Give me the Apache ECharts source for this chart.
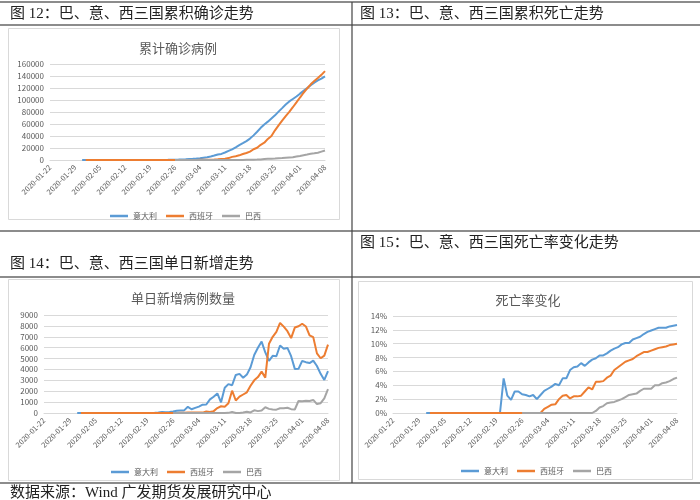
<!DOCTYPE html>
<html>
<head>
<meta charset="utf-8">
<script src="https://cdn.jsdelivr.net/npm/echarts@6/dist/echarts.min.js"></script>
<style>
html,body{margin:0;padding:0;background:#fff}
#main{width:700px;height:500px}
</style>
</head>
<body>
<div id="main"></div>
<script>
var names = ['意大利', '西班牙', '巴西'];
var colors = ['#5b9bd5', '#ed7d31', '#a5a5a5'];

var dates = [
  '2020-01-22','2020-01-23','2020-01-24','2020-01-25','2020-01-26','2020-01-27','2020-01-28','2020-01-29','2020-01-30','2020-01-31',
  '2020-02-01','2020-02-02','2020-02-03','2020-02-04','2020-02-05','2020-02-06','2020-02-07','2020-02-08','2020-02-09','2020-02-10',
  '2020-02-11','2020-02-12','2020-02-13','2020-02-14','2020-02-15','2020-02-16','2020-02-17','2020-02-18','2020-02-19','2020-02-20',
  '2020-02-21','2020-02-22','2020-02-23','2020-02-24','2020-02-25','2020-02-26','2020-02-27','2020-02-28','2020-02-29',
  '2020-03-01','2020-03-02','2020-03-03','2020-03-04','2020-03-05','2020-03-06','2020-03-07','2020-03-08','2020-03-09','2020-03-10',
  '2020-03-11','2020-03-12','2020-03-13','2020-03-14','2020-03-15','2020-03-16','2020-03-17','2020-03-18','2020-03-19','2020-03-20',
  '2020-03-21','2020-03-22','2020-03-23','2020-03-24','2020-03-25','2020-03-26','2020-03-27','2020-03-28','2020-03-29','2020-03-30','2020-03-31',
  '2020-04-01','2020-04-02','2020-04-03','2020-04-04','2020-04-05','2020-04-06','2020-04-07','2020-04-08'
];

// 累计确诊
var italyTotal = [
  null,null,null,null,null,null,null,null,null,2,
  2,2,2,2,2,2,3,3,3,3,3,3,3,3,3,3,3,3,3,3,20,62,155,229,322,453,655,888,1128,
  1694,2036,2502,3089,3858,4636,5883,7375,9172,10149,12462,15113,17660,21157,24747,27980,31506,35713,41035,47021,
  53578,59138,63927,69176,74386,80589,86498,92472,97689,101739,105792,
  110574,115242,119827,124632,128948,132547,135586,139422
];
var spainTotal = [
  null,null,null,null,null,null,null,null,null,null,
  1,1,1,1,1,1,1,1,2,2,2,2,2,2,2,2,2,2,2,2,2,2,2,2,6,13,15,32,45,
  84,120,165,222,259,400,500,673,1073,1695,2277,3146,5232,6391,7798,9942,11748,13910,17963,20410,
  25374,28768,35136,39885,49515,57786,65719,73235,80110,87956,95923,
  104118,112065,119199,126168,131646,136675,141942,148220
];
var brazilTotal = [
  null,null,null,null,null,null,null,null,null,null,
  null,null,null,null,null,null,null,null,null,null,null,null,null,null,null,null,null,null,null,null,null,null,null,null,null,1,1,1,2,
  2,2,2,4,4,13,13,20,25,31,38,52,151,151,162,200,321,372,621,793,
  1021,1546,1924,2247,2554,2985,3417,3904,4256,4579,5717,
  6836,8044,9056,10360,11130,12161,14034,15927
];

// 单日新增
var italyDaily = [
  null,null,null,null,null,null,null,null,null,2,
  0,0,0,0,0,0,1,0,0,0,0,0,0,0,0,0,0,0,0,0,17,42,93,74,93,131,202,233,240,
  566,342,466,587,769,778,1247,1492,1797,977,2313,2651,2547,3497,3590,3233,3526,4207,5322,5986,
  6557,5560,4789,5249,5210,6203,5909,5974,5217,4050,4053,
  4782,4668,4585,4805,4316,3599,3039,3836
];
var spainDaily = [
  null,null,null,null,null,null,null,null,null,null,
  1,0,0,0,0,0,0,0,1,0,0,0,0,0,0,0,0,0,0,0,0,0,0,0,4,7,2,17,13,
  39,36,45,57,37,141,100,173,450,620,580,900,2050,1150,1500,1700,1900,2500,3000,3300,
  3800,3250,6368,7000,7450,8271,7933,7516,6875,7846,7967,
  8195,7947,7134,6969,5478,5029,5267,6278
];
var brazilDaily = [
  null,null,null,null,null,null,null,null,null,null,
  null,null,null,null,null,null,null,null,null,null,null,null,null,null,null,null,null,null,null,null,null,null,null,null,null,1,0,0,1,
  0,0,0,2,0,9,0,7,5,6,7,14,99,0,11,38,121,51,249,172,
  228,525,378,323,307,431,432,487,352,323,1100,
  1080,1120,1100,1200,820,900,1350,2200
];

// 死亡率 (%)
var italyRate = [
  null,null,null,null,null,null,null,null,null,0,
  0,0,0,0,0,0,0,0,0,0,0,0,0,0,0,0,0,0,0,0,5.0,2.5,1.9,3.1,3.1,2.7,2.6,2.4,2.6,
  2.0,2.6,3.2,3.5,3.8,4.2,4.0,5.0,5.0,6.2,6.6,6.7,7.2,6.8,7.3,7.7,7.9,8.3,8.3,8.6,
  9.0,9.3,9.5,9.9,10.1,10.1,10.6,10.8,11.0,11.4,11.7,
  11.9,12.1,12.3,12.3,12.3,12.5,12.6,12.7
];
var spainRate = [
  null,null,null,null,null,null,null,null,null,null,
  0,0,0,0,0,0,0,0,0,0,0,0,0,0,0,0,0,0,0,0,0,0,0,0,0,0,0,0,0,
  0,0,0.6,0.9,1.2,1.25,2.0,2.5,2.6,2.1,2.4,2.4,2.5,3.1,3.7,3.4,4.5,4.5,4.6,5.1,
  5.4,6.2,6.6,7.0,7.4,7.6,7.8,8.2,8.5,8.8,8.8,
  9.0,9.2,9.4,9.5,9.6,9.8,9.9,10.0
];
var brazilRate = [
  null,null,null,null,null,null,null,null,null,null,
  null,null,null,null,null,null,null,null,null,null,null,null,null,null,null,null,null,null,null,null,null,null,null,null,null,0,0,0,0,
  0,0,0,0,0,0,0,0,0,0,0,0,0,0,0,0,0.3,0.8,1.0,1.4,
  1.5,1.6,1.8,2.0,2.3,2.6,2.7,2.8,3.2,3.5,3.5,
  3.5,4.0,4.0,4.3,4.4,4.6,4.9,5.1
];

var chartTitles = ['累计确诊病例', '单日新增病例数量', '死亡率变化'];
var headers = [
  '图 12：巴、意、西三国累积确诊走势',
  '图 13：巴、意、西三国累积死亡走势',
  '图 14：巴、意、西三国单日新增走势',
  '图 15：巴、意、西三国死亡率变化走势'
];
var sourceText = '数据来源：Wind 广发期货发展研究中心';

var cjk = "'Noto Sans CJK SC', sans-serif";
var song = "'Liberation Serif', 'Noto Sans CJK SC', serif";
var grey = '#595959';

function plain(v) { return String(v); }
function pct(v) { return v + '%'; }

function xAxisFor(gi) {
  return {
    type: 'category', gridIndex: gi, data: dates, boundaryGap: false,
    axisLine: {lineStyle: {color: '#d9d9d9'}},
    axisTick: {show: false},
    axisLabel: {interval: 6, rotate: 45, fontSize: 7.5, color: grey, margin: 6, fontFamily: cjk}
  };
}
function yAxisFor(gi, max, step, fmt) {
  return {
    type: 'value', gridIndex: gi, min: 0, max: max, interval: step,
    axisLine: {show: false}, axisTick: {show: false},
    splitLine: {lineStyle: {color: '#d9d9d9', width: 1}},
    axisLabel: {fontSize: 8, color: grey, margin: 6, fontFamily: cjk, formatter: fmt}
  };
}
function lineFor(name, gi, data, color) {
  return {
    name: name, type: 'line', xAxisIndex: gi, yAxisIndex: gi, data: data,
    symbol: 'none', showSymbol: false, connectNulls: false,
    lineStyle: {width: 2, color: color}, itemStyle: {color: color}
  };
}
function legendAt(left, top) {
  return {
    data: names, left: left, top: top, icon: 'rect', itemWidth: 18, itemHeight: 2.5, itemGap: 9,
    textStyle: {fontSize: 8, color: grey, fontFamily: cjk}
  };
}
function hline(y, x1, x2) {
  return {type: 'line', shape: {x1: x1, y1: y, x2: x2, y2: y}, style: {stroke: '#666', lineWidth: 1.5}};
}
function box(x, y, w, h) {
  return {type: 'rect', shape: {x: x, y: y, width: w, height: h}, style: {fill: 'none', stroke: '#d9d9d9', lineWidth: 1}};
}
function label(txt, x, y) {
  return {type: 'text', x: x, y: y, style: {text: txt, fontSize: 15, fontFamily: song, fill: '#222', verticalAlign: 'middle'}};
}

var myChart = echarts.init(document.getElementById('main'));
var option = {
  animation: false,
  backgroundColor: '#fff',
  title: [
    {text: chartTitles[0], left: 173, top: 37, textAlign: 'center', textStyle: {fontSize: 13, fontWeight: 'normal', color: grey, fontFamily: cjk}},
    {text: chartTitles[1], left: 178, top: 287, textAlign: 'center', textStyle: {fontSize: 13, fontWeight: 'normal', color: grey, fontFamily: cjk}},
    {text: chartTitles[2], left: 523, top: 289, textAlign: 'center', textStyle: {fontSize: 13, fontWeight: 'normal', color: grey, fontFamily: cjk}}
  ],
  legend: [legendAt(105, 207), legendAt(106, 463), legendAt(456, 462)],
  grid: [
    {left: 50, right: 375, top: 64, bottom: 340},
    {left: 44, right: 372, top: 315, bottom: 87},
    {left: 393, right: 23, top: 316, bottom: 87}
  ],
  xAxis: [xAxisFor(0), xAxisFor(1), xAxisFor(2)],
  yAxis: [
    yAxisFor(0, 160000, 20000, plain),
    yAxisFor(1, 9000, 1000, plain),
    yAxisFor(2, 14, 2, pct)
  ],
  series: [
    lineFor(names[0], 0, italyTotal, colors[0]),
    lineFor(names[1], 0, spainTotal, colors[1]),
    lineFor(names[2], 0, brazilTotal, colors[2]),
    lineFor(names[0], 1, italyDaily, colors[0]),
    lineFor(names[1], 1, spainDaily, colors[1]),
    lineFor(names[2], 1, brazilDaily, colors[2]),
    lineFor(names[0], 2, italyRate, colors[0]),
    lineFor(names[1], 2, spainRate, colors[1]),
    lineFor(names[2], 2, brazilRate, colors[2])
  ],
  graphic: [
    box(8.5, 28.5, 331, 191),
    box(8.5, 279.5, 331, 201),
    box(358.5, 281.5, 334, 198),
    hline(2, 0, 700),
    hline(25, 0, 700),
    hline(231, 0, 700),
    hline(277, 0, 700),
    hline(483, 0, 700),
    {type: 'line', shape: {x1: 352, y1: 2, x2: 352, y2: 483}, style: {stroke: '#444', lineWidth: 1.2}},
    label(headers[0], 10, 14),
    label(headers[1], 360, 14),
    label(headers[2], 10, 264),
    label(headers[3], 360, 243),
    label(sourceText, 10, 493)
  ]
};
myChart.setOption(option);
</script>
</body>
</html>
